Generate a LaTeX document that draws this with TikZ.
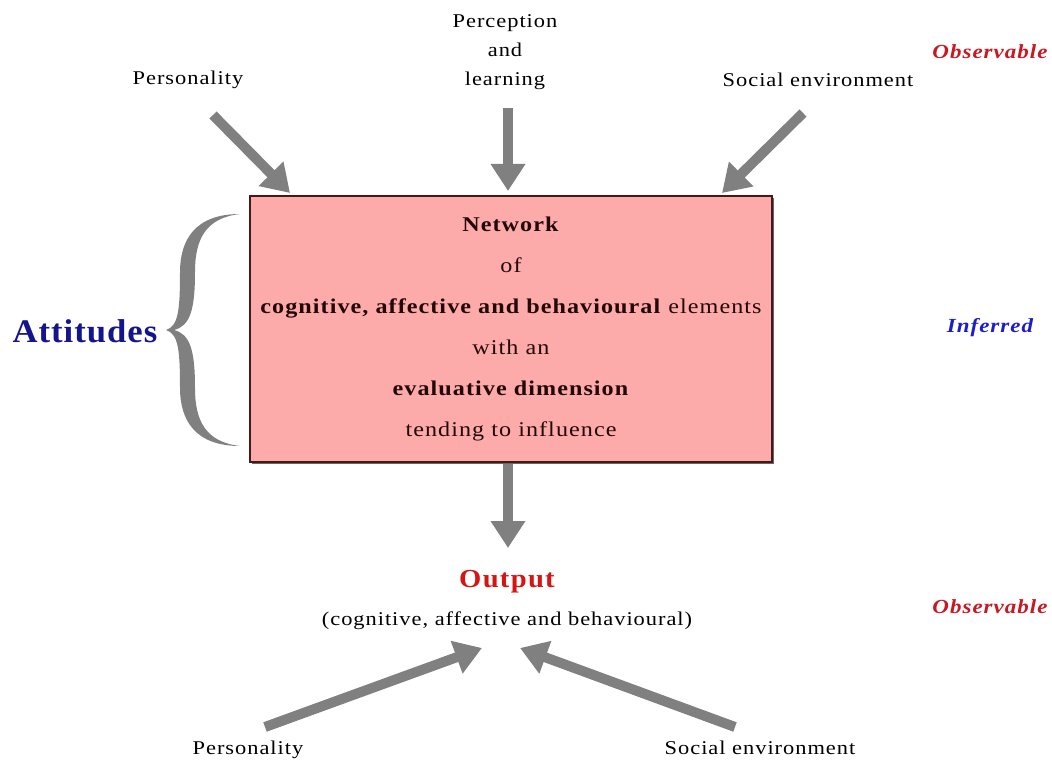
\documentclass[tikz,border=0pt]{standalone}
\usepackage{fontspec}
\setmainfont{Liberation Serif}[FakeStretch=1.15,LetterSpace=5]
\newfontfamily\attfont{Liberation Serif}[FakeStretch=1.05,LetterSpace=3]
\newfontfamily\outfont{Liberation Serif}[FakeStretch=1.1,LetterSpace=5]
\usetikzlibrary{arrows.meta,shadows}
\definecolor{arrgray}{RGB}{128,128,128}
\definecolor{boxpink}{RGB}{252,170,170}
\definecolor{boxline}{RGB}{70,25,25}
\definecolor{boxtext}{RGB}{35,8,8}
\definecolor{obsred}{RGB}{200,25,35}
\definecolor{outred}{RGB}{215,20,20}
\definecolor{attblue}{RGB}{20,20,140}
\definecolor{infblue}{RGB}{30,30,200}
\tikzset{
  arr/.style={draw=arrgray, line width=10pt, -{Triangle[length=27pt,width=33pt]}},
  lbl/.style={font=\fontsize{19.5}{29}\selectfont, text=black, align=center, inner sep=0pt},
  side/.style={font=\fontsize{20}{22}\selectfont\bfseries\itshape, inner sep=0pt},
  netbox/.style={draw=boxline, line width=1.5pt, fill=boxpink, text=boxtext,
    minimum width=522pt, minimum height=266pt, align=center,
    font=\fontsize{21}{41}\selectfont,
    drop shadow={shadow xshift=2pt, shadow yshift=-2pt, fill=black!60, opacity=1}},
}
\begin{document}
\begin{tikzpicture}[x=1pt,y=-1pt]
\useasboundingbox (0,0) rectangle (1052,762);
% labels top
\node[lbl] (pers1) at (188,80) {Personality};
\node[lbl] (perc) at (505,52) {Perception\\and\\learning};
\node[lbl] (soc1) at (818,80) {Social environment};
\node[side, text=obsred] (obs1) at (990,52) {Observable};
% box
\node[netbox] (net) at (511,329) {\textbf{Network}\\of\\\textbf{cognitive, affective and behavioural} elements\\with an\\\textbf{evaluative dimension}\\tending to influence};
% brace
\fill[arrgray] (240,214) .. controls (195,214) and (180,240) .. (180,272)
  .. controls (180,312) and (178,326) .. (166,330)
  .. controls (178,334) and (180,348) .. (180,388)
  .. controls (180,420) and (195,446) .. (240,446)
  .. controls (205,442) and (195,420) .. (195,388)
  .. controls (195,350) and (190,334) .. (174,330)
  .. controls (190,326) and (195,310) .. (195,272)
  .. controls (195,240) and (205,218) .. (240,214) -- cycle;
\node[font=\fontsize{33}{36}\attfont\bfseries, text=attblue, inner sep=0pt] (att) at (85,331) {Attitudes};
\node[side, text=infblue] (inf) at (990,328) {Inferred};
% output
\node[font=\fontsize{26}{28}\outfont\bfseries, text=outred, inner sep=0pt] (out) at (507,582) {Output};
\node[lbl] (outsub) at (507,621) {(cognitive, affective and behavioural)};
\node[side, text=obsred] (obs2) at (990,607) {Observable};
% bottom labels
\node[lbl] (pers2) at (248,750) {Personality};
\node[lbl] (soc2) at (760,748) {Social environment};
% arrow endpoints
\coordinate (a1s) at (213,115); \coordinate (a1e) at (290,193);
\coordinate (a2s) at (508,108); \coordinate (a2e) at (508,191);
\coordinate (a3s) at (803,113); \coordinate (a3e) at (722,193);
\coordinate (a4s) at (508,464); \coordinate (a4e) at (508,548);
\coordinate (a5s) at (265,727); \coordinate (a5e) at (482,648);
\coordinate (a6s) at (735,727); \coordinate (a6e) at (520,648);
\draw[arr] (a1s) -- (a1e);
\draw[arr] (a2s) -- (a2e);
\draw[arr] (a3s) -- (a3e);
\draw[arr] (a4s) -- (a4e);
\draw[arr] (a5s) -- (a5e);
\draw[arr] (a6s) -- (a6e);
\end{tikzpicture}
\end{document}
